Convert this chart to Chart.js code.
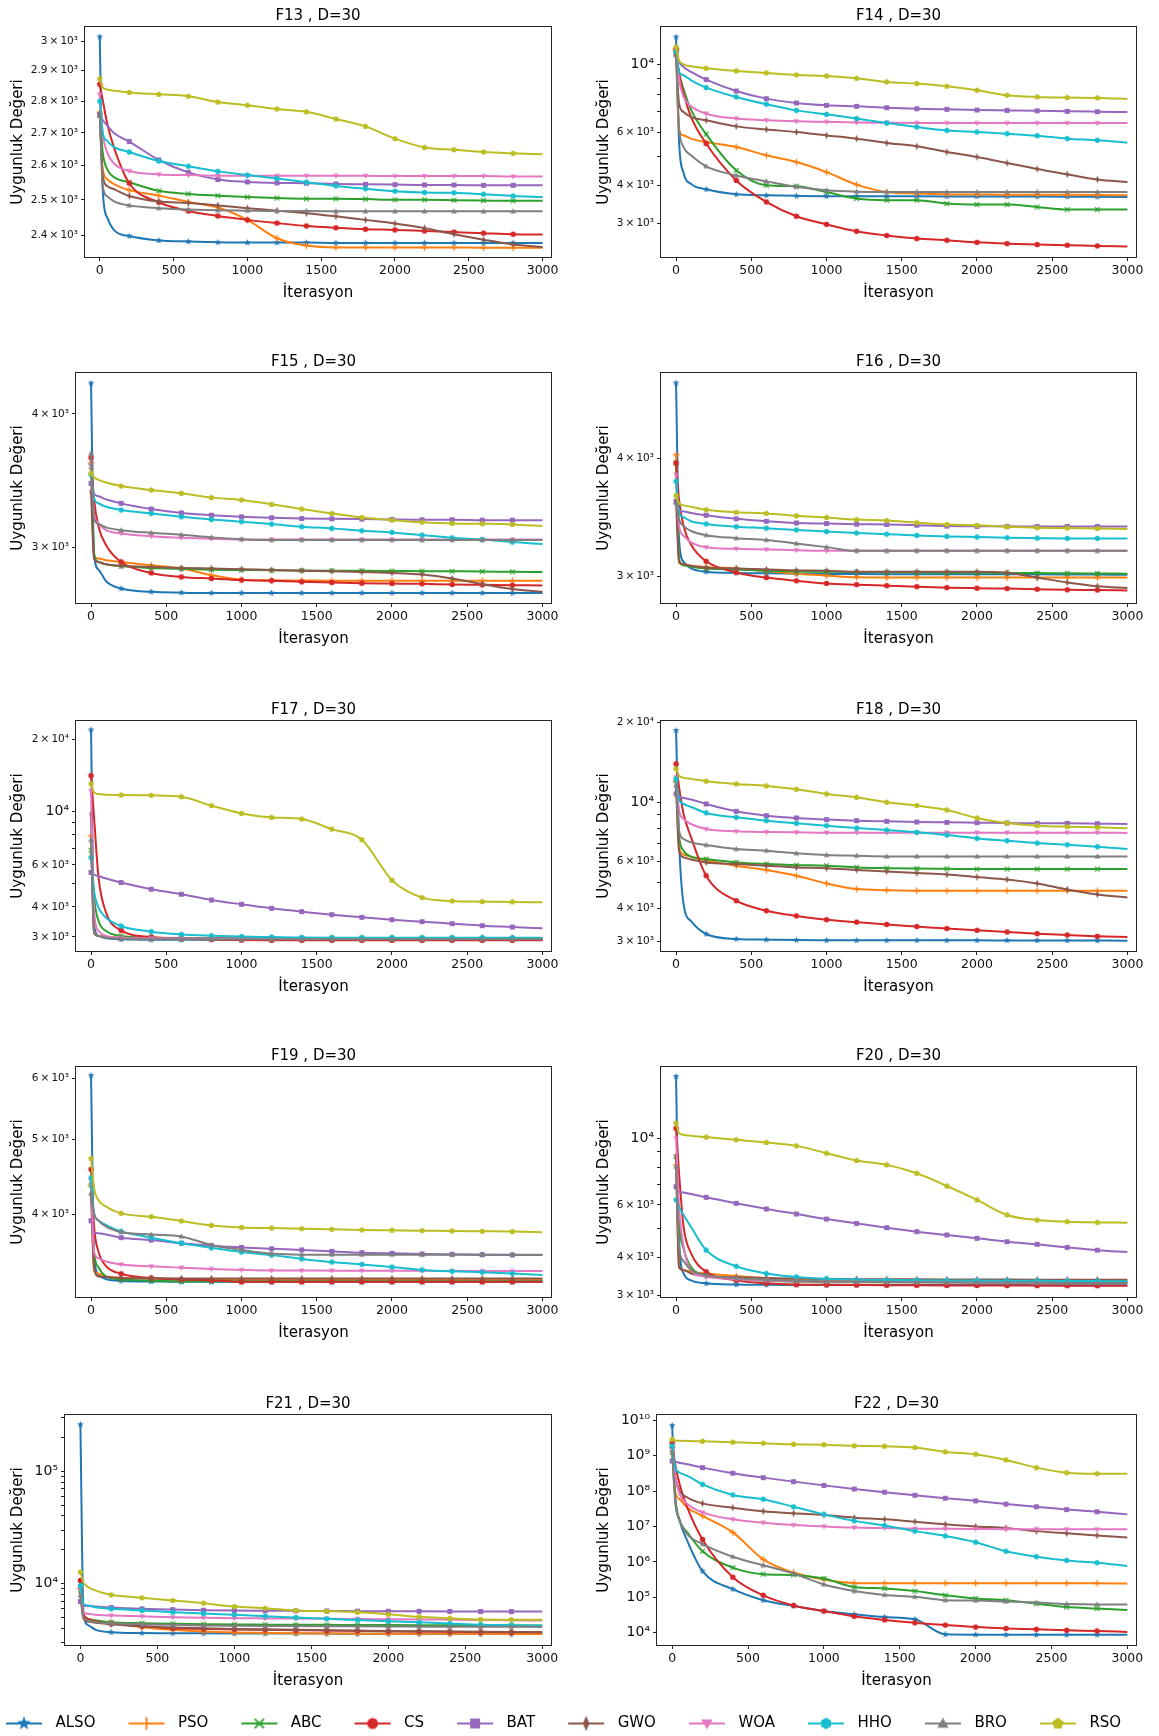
<!DOCTYPE html>
<html>
<head>
<meta charset="utf-8">
<script src="https://cdn.jsdelivr.net/npm/chart.js"></script>
<style>
html,body{margin:0;padding:0;background:#fff;overflow:hidden;width:1159px;height:1736px;position:relative}
canvas{position:absolute}
</style>
</head>
<body>
<canvas id="cF13"></canvas><canvas id="cF14"></canvas>
<canvas id="cF15"></canvas><canvas id="cF16"></canvas>
<canvas id="cF17"></canvas><canvas id="cF18"></canvas>
<canvas id="cF19"></canvas><canvas id="cF20"></canvas>
<canvas id="cF21"></canvas><canvas id="cF22"></canvas>
<canvas id="cLegend"></canvas>
<script>
// ---------------- DATA ----------------
const X = [0,20,50,100,200,400,600,800,1000,1200,1400,1600,1800,2000,2200,2400,2600,2800,3000];
const X_TICKS = [0,500,1000,1500,2000,2500,3000];
const SERIES_NAMES = ['ALSO','PSO','ABC','CS','BAT','GWO','WOA','HHO','BRO','RSO'];

// F13
const F13_ALSO = [3015,2530,2450,2413,2398,2386,2383,2381,2380,2380,2380,2379,2379,2379,2379,2379,2379,2379,2379];
const F13_PSO  = [2765,2590,2560,2545,2528,2512,2494,2478,2443,2392,2372,2367,2367,2367,2367,2367,2366,2366,2366];
const F13_ABC  = [2755,2640,2590,2565,2551,2526,2517,2512,2508,2505,2503,2503,2502,2500,2500,2499,2498,2497,2497];
const F13_CS   = [2855,2804,2730,2650,2548,2493,2468,2454,2443,2434,2426,2421,2417,2415,2412,2409,2406,2403,2402];
const F13_BAT  = [2756,2740,2723,2698,2673,2617,2580,2559,2552,2549,2548,2546,2545,2544,2543,2543,2542,2542,2542];
const F13_GWO  = [2760,2570,2540,2530,2511,2495,2491,2484,2476,2469,2462,2453,2443,2433,2420,2403,2388,2375,2368];
const F13_WOA  = [2822,2700,2640,2605,2584,2574,2572,2570,2570,2570,2570,2570,2570,2569,2569,2569,2569,2568,2568];
const F13_HHO  = [2800,2700,2675,2655,2641,2614,2598,2583,2572,2562,2551,2540,2532,2525,2521,2520,2516,2511,2508];
const F13_BRO  = [2755,2540,2510,2495,2484,2476,2472,2470,2469,2468,2468,2467,2467,2467,2467,2467,2467,2467,2467];
const F13_RSO  = [2873,2845,2838,2834,2828,2822,2816,2797,2787,2775,2766,2743,2720,2682,2655,2648,2641,2637,2634];
const F13_YTICKS = [2400,2500,2600,2700,2800,2900,3000];
const F13_YLABELS = ['2.4\u2009×\u200910³','2.5\u2009×\u200910³','2.6\u2009×\u200910³','2.7\u2009×\u200910³','2.8\u2009×\u200910³','2.9\u2009×\u200910³','3\u2009×\u200910³'];

// F14
const F14_ALSO = [12330,5600,4400,4050,3890,3745,3715,3700,3692,3690,3690,3688,3686,3684,3682,3680,3678,3675,3670];
const F14_PSO  = [11270,6080,5850,5708,5560,5358,5030,4780,4430,4030,3810,3765,3740,3737,3735,3733,3730,3725,3715];
const F14_ABC  = [11150,9400,8300,7100,5905,4490,4010,3980,3810,3625,3580,3580,3490,3465,3465,3400,3335,3335,3335];
const F14_CS   = [11150,9342,8030,6720,5500,4160,3535,3172,2983,2830,2740,2678,2644,2603,2577,2558,2546,2533,2521];
const F14_BAT  = [10870,10200,9825,9460,8925,8190,7728,7478,7344,7290,7215,7160,7125,7090,7070,7050,7020,7000,6983];
const F14_GWO  = [10730,7440,6983,6720,6560,6264,6120,6000,5849,5708,5525,5385,5160,4969,4748,4536,4356,4190,4107];
const F14_WOA  = [11270,8994,7828,7290,6896,6643,6560,6510,6480,6450,6440,6430,6425,6422,6422,6422,6422,6422,6422];
const F14_HHO  = [11000,9460,9224,8880,8400,7828,7410,7070,6862,6643,6422,6233,6075,6000,5925,5835,5708,5638,5538];
const F14_BRO  = [10730,6233,5358,5030,4630,4320,4130,3962,3860,3820,3812,3810,3810,3810,3810,3810,3810,3810,3810];
const F14_RSO  = [11430,10330,10020,9870,9726,9532,9390,9248,9180,9017,8770,8662,8486,8235,7926,7828,7790,7770,7710];
const F14_YTICKS = [3000,4000,5000,6000,7000,8000,9000,10000];
const F14_YLABELS = ['3\u2009×\u200910³','4\u2009×\u200910³','','6\u2009×\u200910³','','','','10⁴'];

// F15
const F15_ALSO = [4274,2960,2860,2790,2746,2727,2722,2720,2720,2720,2720,2720,2720,2720,2720,2720,2720,2720,2720];
const F15_PSO  = [3600,2940,2929,2918,2908,2887,2867,2826,2799,2795,2794,2793,2793,2793,2793,2793,2793,2793,2793];
const F15_ABC  = [3570,2961,2908,2893,2881,2871,2865,2860,2858,2856,2855,2854,2853,2852,2851,2850,2849,2847,2846];
const F15_CS   = [3640,3325,3137,3015,2908,2840,2816,2806,2797,2793,2786,2782,2778,2776,2774,2770,2768,2766,2764];
const F15_BAT  = [3444,3366,3350,3328,3299,3259,3232,3216,3205,3198,3193,3191,3189,3187,3185,3185,3182,3182,3182];
const F15_GWO  = [3383,2929,2908,2893,2885,2877,2871,2867,2863,2858,2854,2850,2846,2840,2830,2806,2772,2744,2727];
const F15_WOA  = [3584,3228,3159,3114,3092,3074,3063,3057,3052,3052,3052,3052,3052,3052,3052,3052,3052,3052,3052];
const F15_HHO  = [3510,3335,3299,3275,3252,3228,3205,3186,3171,3155,3137,3126,3110,3099,3081,3063,3052,3035,3022];
const F15_BRO  = [3675,3193,3155,3133,3114,3096,3083,3066,3054,3048,3048,3048,3048,3048,3048,3048,3048,3048,3048];
const F15_RSO  = [3520,3490,3470,3450,3424,3395,3371,3340,3323,3292,3259,3228,3200,3182,3168,3159,3157,3153,3142];
const F15_YTICKS = [3000,4000];
const F15_YLABELS = ['3\u2009×\u200910³','4\u2009×\u200910³'];

// F16
const F16_ALSO = [4800,3280,3108,3058,3034,3025,3022,3020,3018,3017,3016,3015,3015,3015,3015,3015,3014,3013,3012];
const F16_PSO  = [4032,3100,3090,3078,3070,3058,3039,3020,3006,2993,2991,2991,2991,2991,2991,2991,2991,2991,2991];
const F16_ABC  = [3952,3125,3082,3070,3058,3051,3041,3036,3034,3032,3030,3028,3027,3026,3025,3024,3022,3021,3020];
const F16_CS   = [3952,3612,3390,3240,3112,3029,2991,2968,2949,2940,2933,2926,2919,2915,2912,2908,2904,2902,2899];
const F16_BAT  = [3600,3521,3513,3500,3480,3450,3430,3416,3411,3406,3403,3397,3390,3388,3388,3387,3387,3387,3387];
const F16_GWO  = [3600,3108,3090,3078,3063,3058,3051,3044,3041,3034,3034,3034,3034,3034,3027,2991,2956,2929,2917];
const F16_WOA  = [3840,3390,3311,3259,3220,3208,3203,3197,3192,3192,3192,3192,3192,3192,3192,3192,3192,3192,3192];
const F16_HHO  = [3780,3500,3464,3430,3408,3385,3373,3358,3345,3334,3324,3314,3306,3301,3295,3292,3290,3290,3290];
const F16_BRO  = [3585,3444,3390,3350,3316,3292,3277,3249,3221,3192,3192,3192,3192,3192,3192,3192,3192,3192,3192];
const F16_RSO  = [3650,3585,3565,3553,3527,3506,3496,3476,3461,3444,3436,3418,3403,3396,3384,3376,3374,3371,3366];
const F16_YTICKS = [3000,4000];
const F16_YLABELS = ['3\u2009×\u200910³','4\u2009×\u200910³'];

// F17
const F17_ALSO = [21980,3385,3029,2958,2930,2920,2920,2920,2920,2920,2920,2920,2920,2920,2920,2920,2920,2920,2920];
const F17_PSO  = [7933,3123,3035,2997,2985,2975,2970,2968,2966,2965,2965,2965,2965,2965,2965,2965,2965,2965,2965];
const F17_ABC  = [6900,4378,3495,3174,3029,2978,2970,2968,2966,2965,2963,2962,2961,2960,2960,2959,2958,2958,2958];
const F17_CS   = [14150,9468,5305,3788,3194,2997,2950,2930,2910,2905,2903,2902,2902,2902,2902,2902,2902,2902,2902];
const F17_BAT  = [5575,5455,5380,5262,5060,4745,4522,4280,4105,3950,3825,3716,3621,3540,3474,3407,3342,3300,3257];
const F17_GWO  = [9778,3123,3029,2988,2968,2960,2958,2958,2958,2958,2958,2958,2958,2958,2958,2958,2958,2958,2958];
const F17_WOA  = [12240,3849,3174,3029,2978,2960,2958,2958,2958,2958,2958,2958,2958,2958,2958,2958,2958,2958,2958];
const F17_HHO  = [6436,4669,3975,3610,3330,3155,3074,3035,3010,2995,2980,2978,2978,2978,2978,2978,2978,2978,2978];
const F17_BRO  = [7610,3174,3029,2978,2950,2935,2930,2930,2930,2930,2930,2930,2930,2930,2930,2930,2930,2930,2930];
const F17_RSO  = [13060,12040,11850,11760,11740,11700,11540,10600,9838,9468,9317,8460,7636,5173,4378,4239,4211,4200,4183];
const F17_YTICKS = [3000,4000,5000,6000,7000,8000,9000,10000,20000];
const F17_YLABELS = ['3\u2009×\u200910³','4\u2009×\u200910³','','6\u2009×\u200910³','','','','10⁴','2\u2009×\u200910⁴'];

// F18
const F18_ALSO = [18600,7175,4150,3580,3205,3069,3051,3040,3036,3034,3034,3034,3034,3033,3032,3031,3030,3028,3025];
const F18_PSO  = [12000,6774,6370,6250,6060,5780,5567,5301,4960,4723,4680,4657,4657,4657,4657,4657,4657,4657,4657];
const F18_ABC  = [12060,7490,6584,6250,6124,5949,5864,5810,5780,5697,5660,5640,5630,5616,5616,5616,5616,5616,5616];
const F18_CS   = [13940,11390,9035,7385,5301,4272,3918,3747,3626,3551,3479,3418,3359,3310,3262,3215,3178,3141,3123];
const F18_BAT  = [10750,10500,10380,10250,9857,9250,8908,8730,8610,8530,8482,8434,8409,8385,8360,8336,8336,8313,8290];
const F18_GWO  = [11550,6584,6210,6100,5949,5864,5780,5697,5656,5575,5500,5426,5360,5241,5135,4960,4710,4512,4397];
const F18_WOA  = [12420,9305,8654,8290,7933,7780,7735,7711,7690,7690,7690,7690,7690,7690,7690,7690,7690,7690,7670];
const F18_HHO  = [12240,10290,9857,9600,9120,8780,8530,8336,8170,8000,7870,7711,7534,7320,7175,7033,6930,6813,6678];
const F18_BRO  = [11550,7824,7280,7070,6910,6678,6584,6433,6340,6300,6265,6265,6265,6265,6265,6265,6265,6265,6265];
const F18_RSO  = [13340,12590,12350,12240,12000,11720,11520,11190,10750,10440,10000,9715,9357,8730,8360,8170,8097,8052,7988];
const F18_YTICKS = [3000,4000,5000,6000,7000,8000,9000,10000,20000];
const F18_YLABELS = ['3\u2009×\u200910³','4\u2009×\u200910³','','6\u2009×\u200910³','','','','10⁴','2\u2009×\u200910⁴'];

// F19
const F19_ALSO = [6060,3537,3333,3292,3274,3268,3265,3265,3265,3265,3265,3265,3265,3265,3265,3265,3265,3265,3265];
const F19_PSO  = [4364,3378,3345,3318,3303,3295,3289,3289,3289,3289,3289,3289,3289,3289,3289,3289,3289,3289,3289];
const F19_ABC  = [4364,3570,3409,3318,3289,3277,3270,3270,3270,3270,3270,3270,3270,3270,3270,3270,3270,3270,3270];
const F19_CS   = [4573,3853,3570,3423,3345,3303,3289,3280,3265,3265,3265,3265,3265,3265,3265,3265,3265,3265,3265];
const F19_BAT  = [3922,3784,3777,3762,3727,3700,3666,3638,3620,3605,3593,3577,3563,3556,3549,3546,3542,3539,3537];
const F19_GWO  = [4245,3409,3318,3313,3303,3300,3298,3298,3297,3297,3297,3297,3297,3297,3297,3297,3297,3297,3297];
const F19_WOA  = [4420,3570,3503,3470,3440,3420,3406,3393,3384,3378,3378,3376,3375,3374,3374,3373,3373,3372,3372];
const F19_HHO  = [4460,4008,3922,3870,3798,3727,3666,3615,3570,3537,3497,3464,3440,3414,3384,3369,3360,3348,3333];
const F19_BRO  = [4253,4008,3922,3853,3791,3762,3740,3645,3593,3553,3542,3542,3542,3542,3542,3542,3542,3542,3542];
const F19_RSO  = [4723,4325,4170,4090,4008,3968,3918,3866,3843,3835,3828,3821,3814,3810,3806,3803,3799,3795,3787];
const F19_YTICKS = [4000,5000,6000];
const F19_YLABELS = ['4\u2009×\u200910³','5\u2009×\u200910³','6\u2009×\u200910³'];

// F20
const F20_ALSO = [16050,4580,3546,3363,3287,3257,3250,3248,3246,3245,3245,3245,3244,3244,3244,3243,3243,3242,3242];
const F20_PSO  = [8148,3725,3638,3592,3546,3476,3418,3379,3355,3339,3339,3339,3339,3339,3339,3339,3339,3339,3339];
const F20_ABC  = [8686,5205,4297,3725,3500,3395,3355,3331,3316,3316,3316,3316,3316,3316,3316,3316,3316,3316,3316];
const F20_CS   = [10780,7641,5074,4137,3592,3363,3287,3257,3250,3245,3240,3238,3236,3234,3232,3231,3230,3229,3228];
const F20_BAT  = [6895,6638,6590,6520,6355,6069,5812,5594,5380,5205,5036,4885,4762,4642,4522,4432,4330,4240,4178];
const F20_GWO  = [8686,3725,3638,3546,3476,3443,3426,3410,3400,3395,3392,3390,3388,3386,3384,3382,3381,3380,3379];
const F20_WOA  = [10000,5915,4352,3638,3460,3395,3363,3339,3330,3325,3322,3320,3318,3318,3317,3317,3316,3316,3316];
const F20_HHO  = [6230,5900,5550,5060,4240,3747,3546,3452,3403,3379,3371,3365,3360,3358,3355,3352,3348,3344,3340];
const F20_BRO  = [8044,4352,3900,3638,3500,3418,3379,3355,3340,3330,3320,3315,3310,3305,3302,3300,3298,3296,3295];
const F20_RSO  = [11220,10390,10260,10180,10080,9873,9670,9427,8911,8424,8148,7641,6930,6230,5553,5338,5271,5245,5231];
const F20_YTICKS = [3000,4000,5000,6000,7000,8000,9000,10000];
const F20_YLABELS = ['3\u2009×\u200910³','4\u2009×\u200910³','','6\u2009×\u200910³','','','','10⁴'];

// F21
const F21_ALSO = [260000,5600,4300,3900,3720,3650,3635,3630,3625,3620,3615,3612,3610,3608,3606,3604,3602,3600,3600];
const F21_PSO  = [9020,5227,4883,4719,4510,4117,3900,3765,3690,3664,3640,3620,3610,3605,3600,3597,3594,3591,3589];
const F21_ABC  = [8800,5227,4883,4719,4561,4470,4408,4380,4350,4340,4330,4320,4310,4300,4290,4280,4275,4265,4260];
const F21_CS   = [10700,5408,4883,4620,4408,4200,4030,3979,3930,3900,3870,3840,3815,3790,3770,3750,3735,3720,3710];
const F21_BAT  = [6960,6414,6350,6280,6153,5990,5900,5830,5790,5770,5750,5730,5720,5710,5700,5690,5680,5670,5665];
const F21_GWO  = [8150,4883,4620,4500,4380,4200,4090,4030,3979,3940,3900,3870,3840,3810,3790,3770,3750,3730,3710];
const F21_WOA  = [9020,5596,5408,5300,5227,5140,5052,4990,4950,4930,4910,4890,4870,4850,4830,4800,4770,4740,4719];
const F21_HHO  = [9660,6635,6414,6198,5990,5790,5596,5450,5300,5160,5020,4883,4770,4660,4550,4440,4330,4290,4260];
const F21_BRO  = [7874,5052,4719,4561,4470,4380,4320,4260,4240,4220,4210,4200,4190,4180,4170,4160,4155,4150,4145];
const F21_RSO  = [12700,10300,9340,8700,7984,7505,7110,6726,6283,6076,5790,5710,5596,5370,5087,4940,4815,4790,4790];
const F21_YTICKS = [3000,4000,5000,6000,7000,8000,9000,10000,20000,30000,40000,50000,60000,70000,80000,90000,100000,200000,300000];
const F21_YLABELS = ['','','','','','','','10⁴','','','','','','','','','10⁵','',''];

// F22
const F22_ALSO = [7.2e9,6.6e7,1.44e7,3.9e6,5.5e5,1.7e5,8.3e4,5.7e4,4.1e4,3.3e4,2.77e4,2.4e4,9.0e3,8.8e3,8.7e3,8.7e3,8.7e3,8.7e3,8.7e3];
const F22_PSO  = [1.7e9,1.0e8,5.9e7,3.4e7,2.0e7,6.8e6,1.18e6,5.0e5,3.2e5,2.55e5,2.5e5,2.5e5,2.5e5,2.5e5,2.5e5,2.5e5,2.5e5,2.5e5,2.45e5];
const F22_ABC  = [1.5e9,6.6e7,1.44e7,6.8e6,2.0e6,6.9e5,4.5e5,4.3e5,3.4e5,1.95e5,1.78e5,1.5e5,1.14e5,9.2e4,8.3e4,6.6e4,5.3e4,4.8e4,4.4e4];
const F22_CS   = [2.3e9,5.7e8,1.5e8,3.4e7,4.3e6,3.7e5,1.14e5,5.9e4,4.1e4,2.9e4,2.3e4,1.9e4,1.64e4,1.44e4,1.32e4,1.25e4,1.17e4,1.12e4,1.05e4];
const F22_BAT  = [7.1e8,6.8e8,6.3e8,5.7e8,4.6e8,3.2e8,2.4e8,1.85e8,1.45e8,1.15e8,9.3e7,7.6e7,6.3e7,5.3e7,4.3e7,3.6e7,3.0e7,2.6e7,2.2e7];
const F22_GWO  = [1.36e9,2.5e8,1.0e8,6.6e7,4.5e7,3.4e7,2.7e7,2.35e7,2.1e7,1.78e7,1.6e7,1.37e7,1.15e7,1.0e7,9.1e6,7.4e6,6.4e6,5.6e6,4.9e6];
const F22_WOA  = [1.5e9,2.5e8,8.1e7,4.3e7,2.5e7,1.6e7,1.28e7,1.1e7,1.0e7,9.3e6,9.0e6,8.7e6,8.6e6,8.5e6,8.4e6,8.4e6,8.3e6,8.3e6,8.3e6];
const F22_HHO  = [1.88e9,4.6e8,3.3e8,2.7e8,1.55e8,7.8e7,5.9e7,3.6e7,2.2e7,1.44e7,1.07e7,7.4e6,5.4e6,3.6e6,2.0e6,1.4e6,1.1e6,9.5e5,7.7e5];
const F22_BRO  = [1.23e9,5.2e7,1.44e7,6.0e6,3.2e6,1.4e6,8.0e5,4.7e5,2.3e5,1.5e5,1.17e5,1.03e5,8.3e4,8.1e4,7.6e4,7.1e4,6.5e4,6.3e4,6.3e4];
const F22_RSO  = [2.9e9,2.7e9,2.65e9,2.6e9,2.55e9,2.4e9,2.25e9,2.1e9,2.05e9,1.9e9,1.85e9,1.7e9,1.28e9,1.1e9,7.6e8,4.6e8,3.3e8,3.1e8,3.1e8];
const F22_YTICKS = [1e4,1e5,1e6,1e7,1e8,1e9,1e10];
const F22_YLABELS = ['10⁴','10⁵','10⁶','10⁷','10⁸','10⁹','10¹⁰'];

// ---------------- CHART CONFIG ----------------
const PANELS = [
  {id:'F13', title:'F13 , D=30', series:[F13_ALSO,F13_PSO,F13_ABC,F13_CS,F13_BAT,F13_GWO,F13_WOA,F13_HHO,F13_BRO,F13_RSO], yMin:2341, yMax:3049, yTicks:F13_YTICKS, yLabels:F13_YLABELS},
  {id:'F14', title:'F14 , D=30', series:[F14_ALSO,F14_PSO,F14_ABC,F14_CS,F14_BAT,F14_GWO,F14_WOA,F14_HHO,F14_BRO,F14_RSO], yMin:2329, yMax:13295, yTicks:F14_YTICKS, yLabels:F14_YLABELS},
  {id:'F15', title:'F15 , D=30', series:[F15_ALSO,F15_PSO,F15_ABC,F15_CS,F15_BAT,F15_GWO,F15_WOA,F15_HHO,F15_BRO,F15_RSO], yMin:2662, yMax:4368, yTicks:F15_YTICKS, yLabels:F15_YLABELS},
  {id:'F16', title:'F16 , D=30', series:[F16_ALSO,F16_PSO,F16_ABC,F16_CS,F16_BAT,F16_GWO,F16_WOA,F16_HHO,F16_BRO,F16_RSO], yMin:2812, yMax:4918, yTicks:F16_YTICKS, yLabels:F16_YLABELS},
  {id:'F17', title:'F17 , D=30', series:[F17_ALSO,F17_PSO,F17_ABC,F17_CS,F17_BAT,F17_GWO,F17_WOA,F17_HHO,F17_BRO,F17_RSO], yMin:2620, yMax:23920, yTicks:F17_YTICKS, yLabels:F17_YLABELS},
  {id:'F18', title:'F18 , D=30', series:[F18_ALSO,F18_PSO,F18_ABC,F18_CS,F18_BAT,F18_GWO,F18_WOA,F18_HHO,F18_BRO,F18_RSO], yMin:2767, yMax:20180, yTicks:F18_YTICKS, yLabels:F18_YLABELS},
  {id:'F19', title:'F19 , D=30', series:[F19_ALSO,F19_PSO,F19_ABC,F19_CS,F19_BAT,F19_GWO,F19_WOA,F19_HHO,F19_BRO,F19_RSO], yMin:3120, yMax:6214, yTicks:F19_YTICKS, yLabels:F19_YLABELS},
  {id:'F20', title:'F20 , D=30', series:[F20_ALSO,F20_PSO,F20_ABC,F20_CS,F20_BAT,F20_GWO,F20_WOA,F20_HHO,F20_BRO,F20_RSO], yMin:2961, yMax:17250, yTicks:F20_YTICKS, yLabels:F20_YLABELS},
  {id:'F21', title:'F21 , D=30', series:[F21_ALSO,F21_PSO,F21_ABC,F21_CS,F21_BAT,F21_GWO,F21_WOA,F21_HHO,F21_BRO,F21_RSO], yMin:2862, yMax:315200, yTicks:F21_YTICKS, yLabels:F21_YLABELS},
  {id:'F22', title:'F22 , D=30', series:[F22_ALSO,F22_PSO,F22_ABC,F22_CS,F22_BAT,F22_GWO,F22_WOA,F22_HHO,F22_BRO,F22_RSO], yMin:4496, yMax:1.41e10, yTicks:F22_YTICKS, yLabels:F22_YLABELS}
];

// layout (positions / sizes)
const ROW_TOPS = [0,346,694,1040,1388];
const LAYOUT = {
  F13:{col:0,row:0,yw:85}, F14:{col:1,row:0,yw:81},
  F15:{col:0,row:1,yw:76}, F16:{col:1,row:1,yw:81},
  F17:{col:0,row:2,yw:76}, F18:{col:1,row:2,yw:81},
  F19:{col:0,row:3,yw:76}, F20:{col:1,row:3,yw:81},
  F21:{col:0,row:4,yw:65}, F22:{col:1,row:4,yw:77}
};
const COLORS = ['#1f77b4','#ff7f0e','#2ca02c','#d62728','#9467bd','#8c564b','#e377c2','#17becf','#7f7f7f','#bcbd22'];
const MARKERS = ['star','plus','x','circle','square','thin_diamond','tri_down','hexagon','tri_up','pentagon'];
const FONT = "'DejaVu Sans', sans-serif";
Chart.defaults.font.family = FONT;

function drawMarker(g, shape, cx, cy, s, color) {
  const r = s / 2;
  g.fillStyle = color; g.strokeStyle = color;
  const poly = pts => { g.beginPath(); pts.forEach((p, i) => i ? g.lineTo(p[0], p[1]) : g.moveTo(p[0], p[1])); g.closePath(); g.fill(); };
  const reg = (n, rad, rot) => { const pts = []; for (let k = 0; k < n; k++) { const a = rot + k * 2 * Math.PI / n; pts.push([cx + rad * Math.cos(a), cy + rad * Math.sin(a)]); } return pts; };
  switch (shape) {
    case 'star': { const pts = []; for (let k = 0; k < 10; k++) { const a = -Math.PI / 2 + k * Math.PI / 5; const rr = k % 2 ? r * 0.55 : r * 1.3; pts.push([cx + rr * Math.cos(a), cy + rr * Math.sin(a)]); } poly(pts); break; }
    case 'plus': g.lineWidth = Math.max(1.3, s / 6); g.beginPath(); g.moveTo(cx - r * 1.15, cy); g.lineTo(cx + r * 1.15, cy); g.moveTo(cx, cy - r * 1.15); g.lineTo(cx, cy + r * 1.15); g.stroke(); break;
    case 'x': g.lineWidth = Math.max(1.3, s / 6); g.beginPath(); g.moveTo(cx - r * 0.85, cy - r * 0.85); g.lineTo(cx + r * 0.85, cy + r * 0.85); g.moveTo(cx + r * 0.85, cy - r * 0.85); g.lineTo(cx - r * 0.85, cy + r * 0.85); g.stroke(); break;
    case 'circle': g.beginPath(); g.arc(cx, cy, r, 0, 2 * Math.PI); g.fill(); break;
    case 'square': g.fillRect(cx - r * 0.9, cy - r * 0.9, r * 1.8, r * 1.8); break;
    case 'thin_diamond': poly([[cx, cy - r * 1.35], [cx + r * 0.6, cy], [cx, cy + r * 1.35], [cx - r * 0.6, cy]]); break;
    case 'tri_down': poly([[cx - r * 1.05, cy - r * 0.75], [cx + r * 1.05, cy - r * 0.75], [cx, cy + r * 1.05]]); break;
    case 'tri_up': poly([[cx - r * 1.05, cy + r * 0.75], [cx + r * 1.05, cy + r * 0.75], [cx, cy - r * 1.05]]); break;
    case 'hexagon': poly(reg(6, r * 1.05, -Math.PI / 2)); break;
    case 'pentagon': poly(reg(5, r * 1.1, -Math.PI / 2)); break;
  }
}
function markerCanvas(shape, color, s) {
  const size = Math.ceil(s * 3);
  const c = document.createElement('canvas'); c.width = size; c.height = size;
  drawMarker(c.getContext('2d'), shape, size / 2, size / 2, s, color);
  return c;
}
function legendCanvas(shape, color) {
  const c = document.createElement('canvas'); c.width = 48; c.height = 24;
  const g = c.getContext('2d');
  g.strokeStyle = color; g.lineWidth = 2; g.beginPath(); g.moveTo(6, 12); g.lineTo(42, 12); g.stroke();
  drawMarker(g, shape, 24, 12, 11, color);
  return c;
}
const PLOT_MARKERS = MARKERS.map((m, i) => markerCanvas(m, COLORS[i], 5.5));
const LEGEND_MARKERS = MARKERS.map((m, i) => legendCanvas(m, COLORS[i]));

const isPow10 = v => { if (!(v > 0)) return false; const l = Math.log10(v); return Math.abs(l - Math.round(l)) < 1e-9; };

const framePlugin = {
  id: 'frame',
  afterDraw(chart) {
    const a = chart.chartArea, g = chart.ctx;
    const l = Math.round(a.left), t = Math.round(a.top), r = Math.round(a.right), b = Math.round(a.bottom);
    g.save(); g.strokeStyle = '#262626'; g.lineWidth = 1;
    g.strokeRect(l - 0.5, t - 0.5, r - l + 1, b - t + 1);
    g.restore();
  }
};

PANELS.forEach(p => {
  const lay = LAYOUT[p.id];
  const cv = document.getElementById('c' + p.id);
  cv.width = lay.col ? 579 : 580; cv.height = 307;
  cv.style.left = (lay.col ? 580 : 0) + 'px';
  cv.style.top = ROW_TOPS[lay.row] + 'px';
  const labelMap = new Map(p.yTicks.map((v, i) => [v, p.yLabels[i]]));
  new Chart(cv, {
    type: 'line',
    data: {
      datasets: SERIES_NAMES.map((name, i) => ({
        label: name,
        data: X.map((x, k) => ({x: x, y: p.series[i][k]})),
        borderColor: COLORS[i], backgroundColor: COLORS[i], borderWidth: 2,
        pointStyle: PLOT_MARKERS[i],
        pointRadius: c => (X[c.dataIndex] % 200 === 0 && X[c.dataIndex] < 3000) ? 3 : 0,
        pointHoverRadius: 0,
        cubicInterpolationMode: 'monotone', fill: false,
        order: 9 - i
      }))
    },
    options: {
      responsive: false, animation: false, events: [],
      layout: {padding: {left: 0, top: 0, bottom: 0, right: lay.col ? 23 : 29}},
      plugins: {
        legend: {display: false}, tooltip: {enabled: false},
        title: {display: true, text: p.title, fullSize: false, color: '#000',
                font: {size: 15, weight: 'normal'}, padding: {top: 7, bottom: 2}}
      },
      scales: {
        x: {
          type: 'linear', min: -100, max: 3057, bounds: 'data',
          afterBuildTicks: s => { s.ticks = X_TICKS.map(v => ({value: v})); },
          afterFit: s => { s.height = 50; },
          ticks: {callback: v => String(v), font: {size: 12.5}, color: '#111', padding: 2, autoSkip: false, maxRotation: 0},
          grid: {drawOnChartArea: false, drawTicks: true, tickLength: 4, color: '#222'},
          border: {display: false},
          title: {display: true, text: 'İterasyon', font: {size: 15}, color: '#000', padding: {top: 0, bottom: 5}}
        },
        y: {
          type: 'logarithmic', min: p.yMin, max: p.yMax, bounds: 'data',
          afterBuildTicks: s => { s.ticks = p.yTicks.map(v => ({value: v})); },
          afterFit: s => { s.width = lay.yw; },
          ticks: {
            callback: v => (labelMap.has(v) ? labelMap.get(v) : ''),
            font: c => ({size: (c.tick && isPow10(c.tick.value)) ? 14 : 10.5}),
            color: '#111', padding: 3, autoSkip: false
          },
          grid: {drawOnChartArea: false, drawTicks: true, tickLength: 4, color: '#222'},
          border: {display: false},
          title: {display: true, text: 'Uygunluk Değeri', font: {size: 15}, color: '#000',
                  padding: {top: lay.col ? 15 : 9.5, bottom: 0}}
        }
      }
    },
    plugins: [framePlugin]
  });
});

// shared legend
const lc = document.getElementById('cLegend');
lc.width = 1230; lc.height = 90;
lc.style.left = '-27px'; lc.style.top = '1689px';
new Chart(lc, {
  type: 'line',
  data: {datasets: SERIES_NAMES.map((n, i) => ({label: n, data: [], borderColor: COLORS[i], backgroundColor: COLORS[i]}))},
  options: {
    responsive: false, animation: false, events: [],
    layout: {padding: 0},
    scales: {x: {display: false}, y: {display: false}},
    plugins: {
      tooltip: {enabled: false}, title: {display: false},
      legend: {
        display: true, position: 'top', align: 'start',
        labels: {
          usePointStyle: true, pointStyleWidth: 48, padding: 27, color: '#000', font: {size: 15},
          generateLabels: () => SERIES_NAMES.map((n, i) => ({
            text: n, pointStyle: LEGEND_MARKERS[i], fillStyle: COLORS[i], strokeStyle: COLORS[i],
            lineWidth: 0, hidden: false, datasetIndex: i, fontColor: '#000'
          }))
        }
      }
    }
  }
});
</script>
</body>
</html>
